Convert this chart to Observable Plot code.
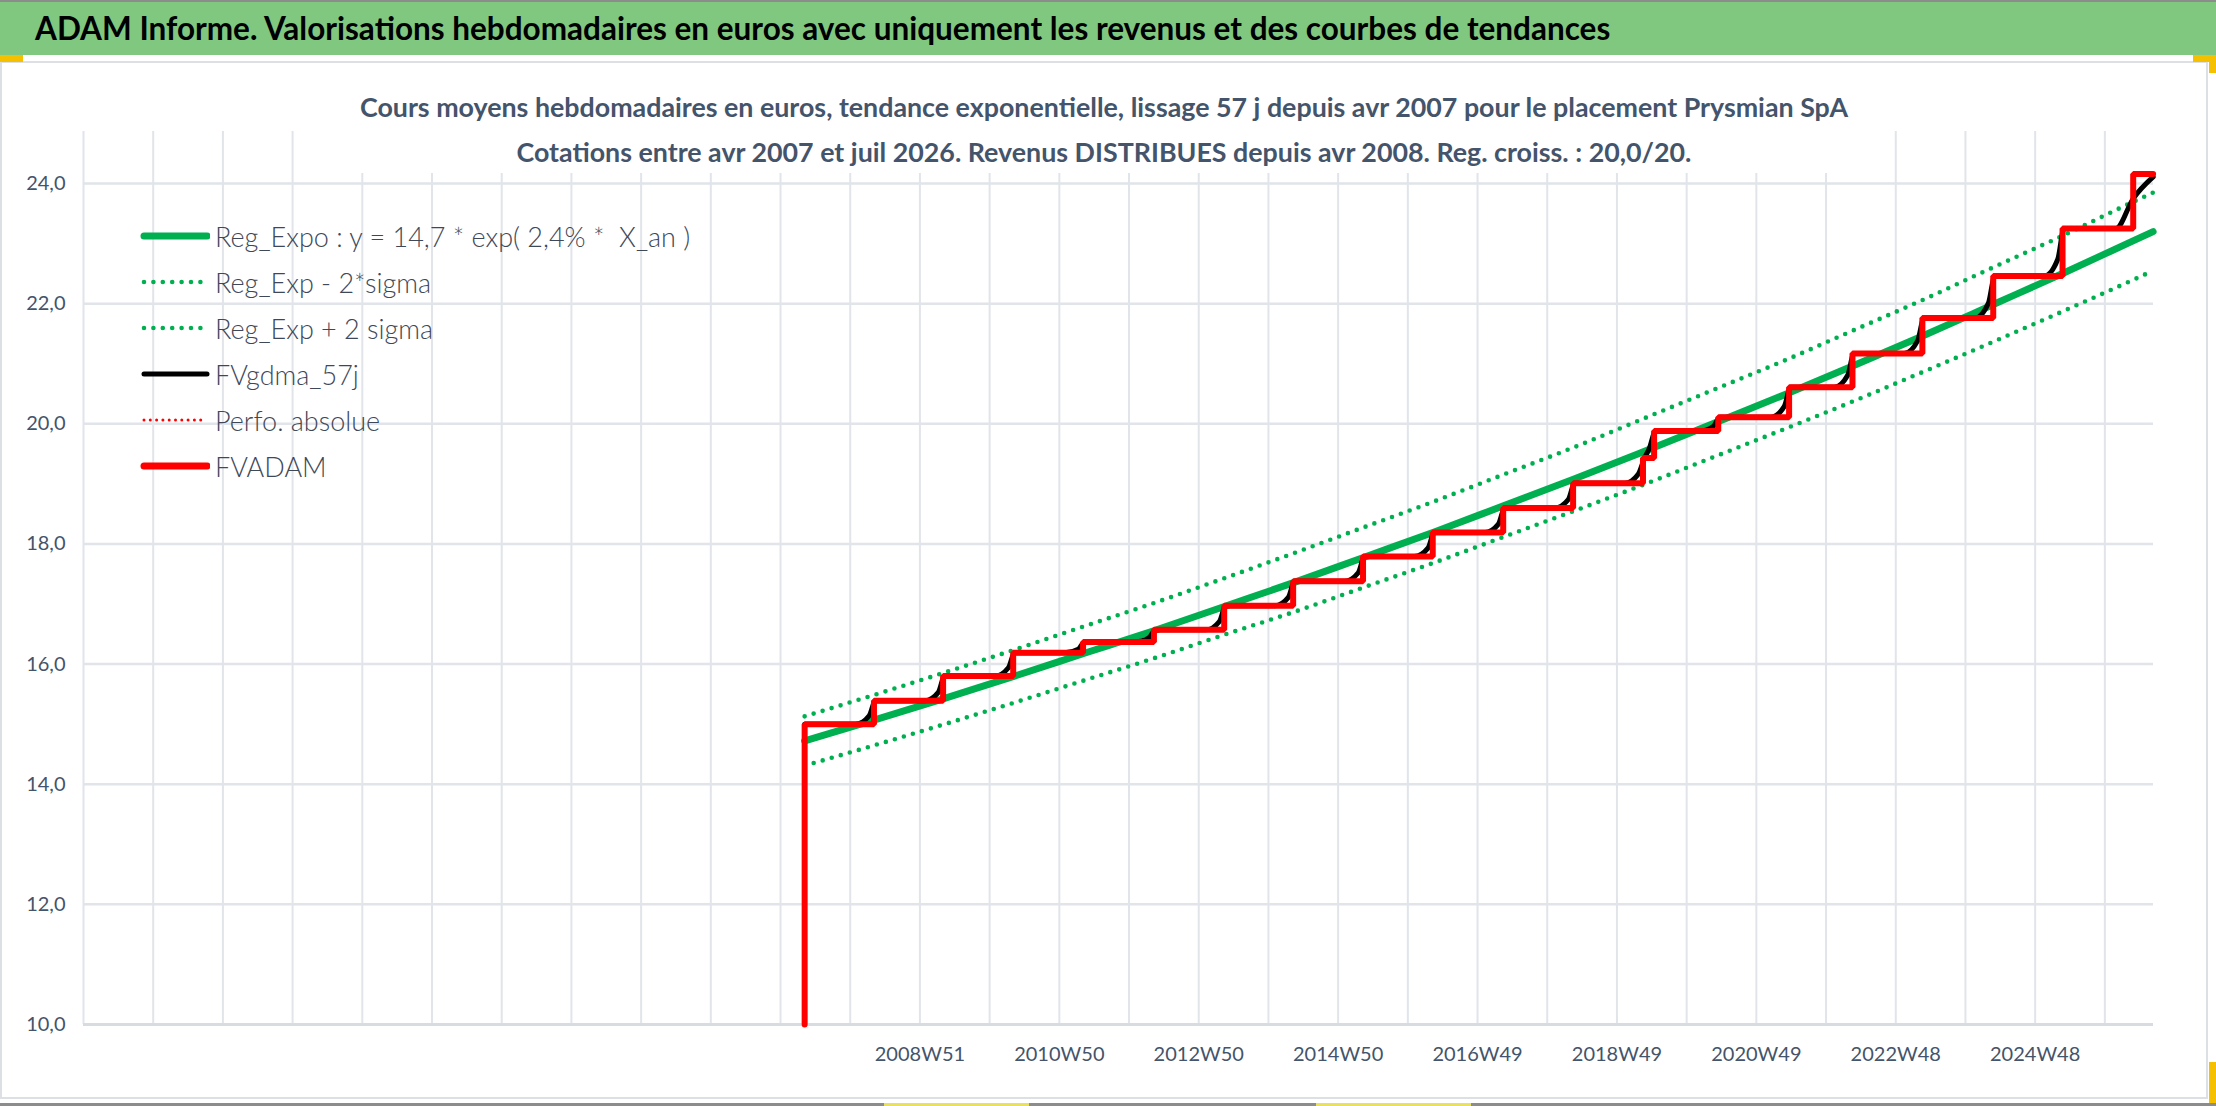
<!DOCTYPE html>
<html>
<head>
<meta charset="utf-8">
<script src="https://cdn.jsdelivr.net/npm/d3@7"></script>
<script src="https://cdn.jsdelivr.net/npm/@observablehq/plot@0.6"></script>
<style>
  html, body { margin: 0; padding: 0; }
  body { width: 2216px; height: 1106px; position: relative; overflow: hidden; background: #fff; font-family: Lato, "Open Sans", sans-serif; }
  #topline { position: absolute; left: 0; top: 0; width: 2216px; height: 2px; background: #8c8c8c; }
  #titlebar { position: absolute; left: 0; top: 2px; width: 2216px; height: 53px; background: #80C880; }
  #title { position: absolute; left: 35px; top: 0; line-height: 53px; font-size: 31.5px; font-weight: 700; color: #000; white-space: nowrap; }
  #frame { position: absolute; left: 0; top: 61px; width: 2204px; height: 1034px; border: 2px solid #DCDFE4; }
  #chart { position: absolute; left: 0; top: 62px; }
  #subtitle { position: absolute; left: 339px; top: 85px; width: 1530px; height: 88px; background: #fff; text-align: center; font-size: 26.8px; font-weight: 700; color: #44546A; line-height: 45px; white-space: nowrap; }
  #legend { position: absolute; left: 140px; top: 213px; font-size: 27px; font-weight: 300; color: #3E4858; }
  .item { height: 46px; display: flex; align-items: center; white-space: nowrap; }
  .item svg { margin-right: 5px; flex: none; }
  .handle { position: absolute; background: #F5C000; }
  #bottomline { position: absolute; left: 0; top: 1103px; width: 2216px; height: 3px; background: #8c8c8c; }
</style>
</head>
<body>
<div id="topline"></div>
<div id="titlebar"><div id="title">ADAM Informe. Valorisations hebdomadaires en euros avec uniquement les revenus et des courbes de tendances</div></div>
<div id="frame"></div>
<div id="chart"></div>
<div id="subtitle">Cours moyens hebdomadaires en euros, tendance exponentielle, lissage 57 j depuis avr 2007 pour le placement Prysmian SpA<br>Cotations entre avr 2007 et juil 2026. Revenus DISTRIBUES depuis avr 2008. Reg. croiss. : 20,0/20.</div>
<div id="legend"></div>
<div class="handle" style="left:0;top:55px;width:23px;height:7px"></div>
<div class="handle" style="left:2193px;top:55px;width:23px;height:7px"></div>
<div class="handle" style="left:2209px;top:55px;width:7px;height:18px"></div>
<div class="handle" style="left:2209px;top:1062px;width:7px;height:44px"></div>
<div id="bottomline"></div>
<div class="handle" style="left:884px;top:1103px;width:145px;height:3px;background:#E8E060"></div>
<div class="handle" style="left:1316px;top:1103px;width:155px;height:3px;background:#E8E060"></div>
<script>
// ---------- data ----------
const xDomain = ["1996-12-30", "2026-08-05"];
const weekLabels = ["2008W51", "2010W50", "2012W50", "2014W50", "2016W49", "2018W49", "2020W49", "2022W48", "2024W48"];
const yTicks = [10, 12, 14, 16, 18, 20, 22, 24];

// FVADAM (red step line)
const adamDates = ["2007-04-23", "2007-04-23", "2008-04-19", "2009-04-15", "2010-04-16", "2011-04-16", "2012-04-20", "2013-04-22", "2014-04-17", "2015-04-17", "2016-04-15", "2017-04-18", "2018-04-18", "2019-04-18", "2019-06-15", "2020-05-15", "2021-05-20", "2022-04-16", "2023-04-16", "2024-04-20", "2025-04-17", "2026-04-21", "2026-08-03"];
const adamValues = [10.0, 15.00, 15.39, 15.80, 16.19, 16.37, 16.57, 16.97, 17.38, 17.79, 18.19, 18.60, 19.01, 19.43, 19.88, 20.11, 20.61, 21.17, 21.76, 22.46, 23.25, 24.16, 24.16];

// FVgdma_57j (black smoothed line)
const gdmaDates = ["2007-04-23",
  "2008-01-15", "2008-03-25", "2008-04-27",
  "2009-01-10", "2009-03-21", "2009-04-23",
  "2010-01-11", "2010-03-22", "2010-04-24",
  "2011-01-11", "2011-03-22", "2011-04-24",
  "2012-01-16", "2012-03-26", "2012-04-28",
  "2013-01-17", "2013-03-28", "2013-04-30",
  "2014-01-12", "2014-03-23", "2014-04-25",
  "2015-01-12", "2015-03-23", "2015-04-25",
  "2016-01-10", "2016-03-21", "2016-04-23",
  "2017-01-13", "2017-03-24", "2017-04-26",
  "2018-01-13", "2018-03-24", "2018-04-26",
  "2019-01-13", "2019-03-24", "2019-04-26", "2019-05-21", "2019-06-23",
  "2020-02-10", "2020-04-20", "2020-05-23",
  "2021-02-14", "2021-04-25", "2021-05-28",
  "2022-01-11", "2022-03-22", "2022-04-24",
  "2023-01-11", "2023-03-22", "2023-04-24",
  "2024-01-16", "2024-03-26", "2024-04-28",
  "2025-01-12", "2025-03-23", "2025-04-25",
  "2026-01-20", "2026-04-21", "2026-08-03"];
const gdmaValues = [15.00,
  15.00, 15.14, 15.39,
  15.39, 15.53, 15.80,
  15.80, 15.94, 16.19,
  16.19, 16.25, 16.37,
  16.37, 16.44, 16.57,
  16.57, 16.71, 16.97,
  16.97, 17.11, 17.38,
  17.38, 17.52, 17.79,
  17.79, 17.93, 18.19,
  18.19, 18.33, 18.60,
  18.60, 18.74, 19.01,
  19.01, 19.16, 19.43, 19.59, 19.88,
  19.88, 19.96, 20.11,
  20.11, 20.29, 20.61,
  20.61, 20.81, 21.17,
  21.17, 21.38, 21.76,
  21.76, 22.01, 22.46,
  22.46, 22.74, 23.25,
  23.25, 23.75, 24.11];

// Regression (exponential trend) and +/- 2 sigma bands
const regDates = ["2007-04-23", "2008-04-23", "2009-04-23", "2010-04-23", "2011-04-23", "2012-04-23", "2013-04-23", "2014-04-23", "2015-04-23", "2016-04-23", "2017-04-23", "2018-04-23", "2019-04-23", "2020-04-23", "2021-04-23", "2022-04-23", "2023-04-23", "2024-04-23", "2025-04-23", "2026-04-23", "2026-08-03"];
const regValues = [14.72, 15.07, 15.43, 15.80, 16.18, 16.56, 16.96, 17.36, 17.78, 18.20, 18.64, 19.08, 19.54, 20.01, 20.48, 20.97, 21.47, 21.99, 22.51, 23.05, 23.20];
const regUpper = [15.13, 15.49, 15.86, 16.24, 16.63, 17.02, 17.43, 17.85, 18.28, 18.71, 19.16, 19.61, 20.09, 20.57, 21.05, 21.56, 22.07, 22.61, 23.14, 23.70, 23.85];
const regLower = [14.31, 14.65, 15.00, 15.36, 15.73, 16.10, 16.49, 16.87, 17.28, 17.69, 18.12, 18.55, 18.99, 19.45, 19.91, 20.38, 20.87, 21.37, 21.88, 22.40, 22.55];

// ---------- helpers ----------
const parse = d3.utcParse("%Y-%m-%d");
function isoWeekMonday(s) {
  const [y, w] = s.split("W").map(Number);
  const jan4 = new Date(Date.UTC(y, 0, 4));
  const dow = (jan4.getUTCDay() + 6) % 7;
  return new Date(Date.UTC(y, 0, 4 - dow + (w - 1) * 7));
}
const zip = (dates, values) => dates.map((d, i) => ({date: parse(d), value: values[i]}));

const adam = zip(adamDates, adamValues);
const gdma = zip(gdmaDates, gdmaValues);
const reg = zip(regDates, regValues);
const up = zip(regDates, regUpper);
const lo = zip(regDates, regLower);

const labelData = weekLabels.map(l => ({date: isoWeekMonday(l), label: l}));
const anchor = isoWeekMonday(weekLabels[0]);
const gridDates = d3.range(-12, 18).map(k => d3.utcDay.offset(anchor, 364 * k));

const GREEN = "#00B050", RED = "#FF0000", GRID = "#E1E4E9", TXT = "#44546A";

const plot = Plot.plot({
  width: 2216,
  height: 1044,
  marginTop: 61,
  marginBottom: 82,
  marginLeft: 83,
  marginRight: 63,
  style: {fontFamily: "Lato, 'Open Sans', sans-serif", fontSize: "20px", color: TXT, background: "transparent"},
  x: {type: "utc", domain: xDomain.map(parse), axis: null},
  y: {domain: [10, 25], axis: null},
  marks: [
    Plot.ruleX(gridDates, {x: d => d, y1: 10, y2: 25, stroke: GRID, strokeWidth: 2, insetBottom: -8}),
    Plot.ruleY(yTicks.filter(t => t > 10), {y: d => d, stroke: GRID, strokeWidth: 2.5}),
    Plot.ruleY([10], {y: d => d, stroke: "#D8DBE0", strokeWidth: 3}),
    Plot.axisY({ticks: yTicks, label: null, tickSize: 0, tickPadding: 18, tickFormat: d => d.toFixed(1).replace(".", ","), fontSize: 20, fill: TXT}),
    Plot.text(labelData, {x: "date", text: "label", frameAnchor: "bottom", dy: 36, fontSize: 20, fill: TXT}),
    Plot.line(reg, {x: "date", y: "value", curve: "monotone-x", stroke: GREEN, strokeWidth: 7}),
    Plot.line(lo, {x: "date", y: "value", curve: "monotone-x", stroke: GREEN, strokeWidth: 4.6, strokeDasharray: "0 9.4", strokeLinecap: "round"}),
    Plot.line(up, {x: "date", y: "value", curve: "monotone-x", stroke: GREEN, strokeWidth: 4.6, strokeDasharray: "0 9.4", strokeLinecap: "round"}),
    Plot.line(gdma, {x: "date", y: "value", curve: "monotone-x", stroke: "#000", strokeWidth: 5}),
    Plot.line(adam, {x: "date", y: "value", curve: "step-after", stroke: RED, strokeWidth: 6, strokeLinejoin: "miter"})
  ]
});
document.getElementById("chart").appendChild(plot);

// ---------- legend ----------
const legendItems = [
  {label: "Reg_Expo : y = 14,7 * exp( 2,4% *  X_an )", color: GREEN, width: 7, dash: null},
  {label: "Reg_Exp - 2*sigma", color: GREEN, width: 4.6, dash: "0 9.4"},
  {label: "Reg_Exp + 2 sigma", color: GREEN, width: 4.6, dash: "0 9.4"},
  {label: "FVgdma_57j", color: "#000", width: 5, dash: null},
  {label: "Perfo. absolue", color: RED, width: 3, dash: "0 6.3"},
  {label: "FVADAM", color: RED, width: 7, dash: null}
];
const legend = d3.select("#legend");
legendItems.forEach(it => {
  const row = legend.append("div").attr("class", "item");
  const svg = row.append("svg").attr("width", 70).attr("height", 20);
  svg.append("line").attr("x1", 4).attr("x2", 67).attr("y1", 10).attr("y2", 10)
    .attr("stroke", it.color).attr("stroke-width", it.width)
    .attr("stroke-linecap", "round")
    .attr("stroke-dasharray", it.dash);
  row.append("span").style("white-space", "pre").text(it.label);
});
</script>
</body>
</html>
